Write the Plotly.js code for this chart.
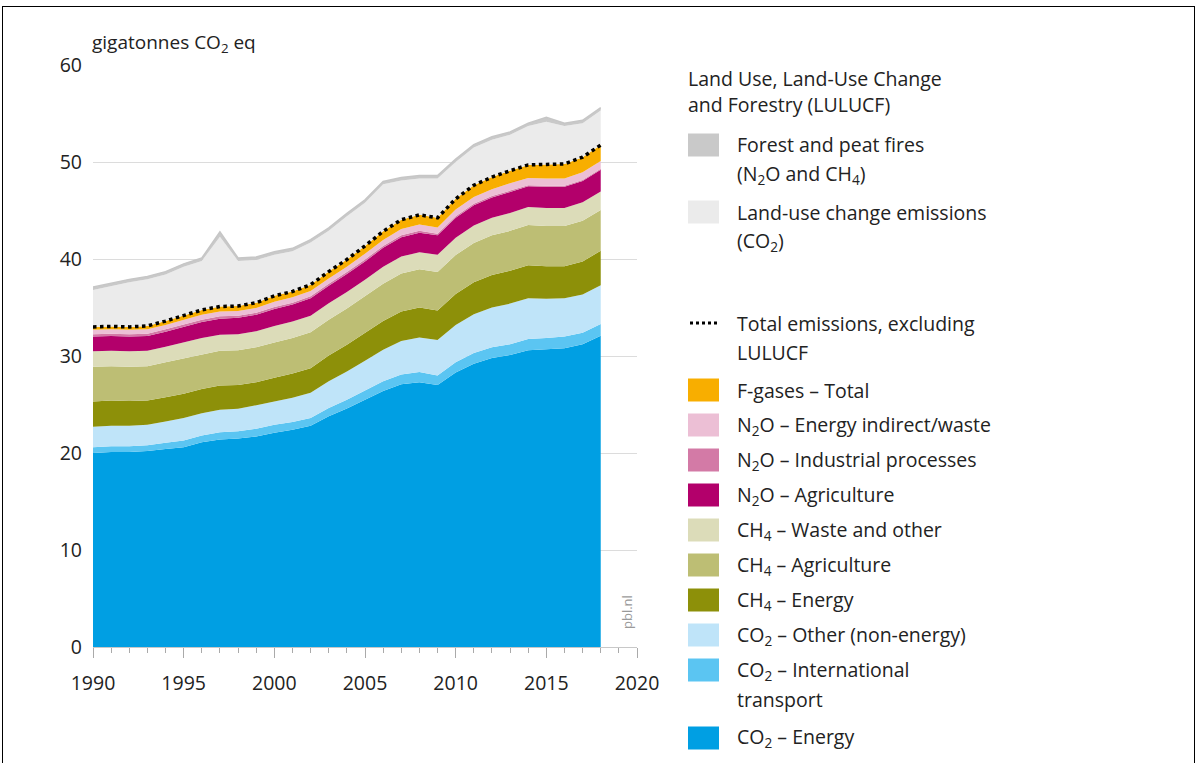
<!DOCTYPE html>
<html><head><meta charset="utf-8">
<script src="https://cdn.plot.ly/plotly-3.0.1.min.js"></script>
<style>
html,body{margin:0;padding:0;background:#fff;}
#chart{width:1198px;height:763px;position:absolute;left:0;top:0;}
#frame{position:absolute;left:2px;top:6px;width:1193px;height:800px;border:1.5px solid #000;pointer-events:none;box-sizing:border-box;}
</style></head><body>
<div id="chart"></div><div id="frame"></div>
<script>
// ---- data (gigatonnes CO2 eq) ----
const years = [1990,1991,1992,1993,1994,1995,1996,1997,1998,1999,2000,2001,2002,2003,2004,2005,2006,2007,2008,2009,2010,2011,2012,2013,2014,2015,2016,2017,2018];
const co2Energy = [20.0,20.1,20.1,20.2,20.4,20.6,21.1,21.4,21.5,21.7,22.1,22.4,22.8,23.8,24.6,25.5,26.4,27.1,27.3,27.0,28.3,29.2,29.8,30.1,30.6,30.7,30.8,31.2,32.1];
const co2Transport = [0.6,0.6,0.6,0.6,0.65,0.7,0.7,0.75,0.75,0.8,0.8,0.8,0.8,0.85,0.9,0.95,1.0,1.0,1.05,1.0,1.05,1.1,1.1,1.1,1.15,1.15,1.2,1.2,1.2];
const co2Other = [2.1,2.1,2.1,2.1,2.2,2.3,2.3,2.3,2.3,2.4,2.4,2.5,2.6,2.75,2.9,3.05,3.25,3.45,3.55,3.65,3.85,4.0,4.1,4.2,4.2,4.05,3.95,3.95,4.0];
const ch4Energy = [2.6,2.6,2.55,2.5,2.5,2.5,2.5,2.5,2.45,2.4,2.45,2.5,2.55,2.65,2.75,2.85,2.95,3.05,3.1,3.05,3.2,3.3,3.35,3.4,3.4,3.35,3.3,3.4,3.55];
const ch4Agri = [3.6,3.55,3.55,3.55,3.6,3.65,3.6,3.6,3.6,3.6,3.65,3.65,3.7,3.7,3.75,3.8,3.85,3.9,3.95,3.95,4.0,4.05,4.1,4.1,4.15,4.15,4.15,4.2,4.2];
const ch4Waste = [1.6,1.6,1.6,1.6,1.6,1.65,1.65,1.65,1.65,1.65,1.7,1.7,1.7,1.7,1.7,1.7,1.75,1.75,1.75,1.8,1.8,1.8,1.8,1.85,1.85,1.85,1.85,1.9,1.9];
const n2oAgri = [1.5,1.5,1.5,1.5,1.55,1.6,1.65,1.65,1.7,1.7,1.75,1.75,1.8,1.8,1.85,1.9,1.95,2.0,2.0,2.0,2.05,2.1,2.1,2.15,2.15,2.2,2.2,2.2,2.25];
const n2oIndustry = [0.25,0.25,0.25,0.25,0.25,0.25,0.25,0.25,0.2,0.2,0.2,0.2,0.2,0.2,0.2,0.2,0.2,0.2,0.2,0.15,0.15,0.15,0.15,0.15,0.1,0.1,0.1,0.1,0.1];
const n2oEnergy = [0.45,0.45,0.45,0.45,0.45,0.5,0.5,0.5,0.5,0.5,0.55,0.55,0.55,0.55,0.55,0.6,0.6,0.65,0.65,0.65,0.7,0.7,0.7,0.75,0.75,0.75,0.75,0.8,0.8];
const fGases = [0.3,0.3,0.3,0.35,0.4,0.45,0.5,0.5,0.5,0.55,0.6,0.6,0.65,0.7,0.75,0.8,0.9,0.95,1.0,1.0,1.1,1.2,1.25,1.3,1.35,1.45,1.5,1.55,1.65];
const landUseChange = [3.8,4.15,4.6,4.8,4.8,5.0,5.05,7.2,4.65,4.4,4.25,4.15,4.35,4.2,4.45,4.45,4.85,4.05,3.75,4.05,3.8,3.9,3.85,3.7,4.0,4.4,3.9,3.5,3.55];
const fires = [0.3,0.3,0.3,0.3,0.3,0.3,0.3,0.5,0.3,0.3,0.3,0.3,0.3,0.3,0.3,0.3,0.3,0.3,0.3,0.3,0.3,0.3,0.3,0.3,0.3,0.45,0.3,0.3,0.3];

const xTickLabels = ['1990','1995','2000','2005','2010','2015','2020'];
const yTickLabels = ['0','10','20','30','40','50','60'];

// ---- series definitions (bottom to top) ----
const ghgSeries = [
  {name:'CO<sub>2</sub> – Energy', y:co2Energy, color:'#009fe3'},
  {name:'CO<sub>2</sub> – International|transport', y:co2Transport, color:'#5bc5f2'},
  {name:'CO<sub>2</sub> – Other (non-energy)', y:co2Other, color:'#bfe4f9'},
  {name:'CH<sub>4</sub> – Energy', y:ch4Energy, color:'#8d9009'},
  {name:'CH<sub>4</sub> – Agriculture', y:ch4Agri, color:'#bdbe74'},
  {name:'CH<sub>4</sub> – Waste and other', y:ch4Waste, color:'#dcdcb9'},
  {name:'N<sub>2</sub>O – Agriculture', y:n2oAgri, color:'#b3006b'},
  {name:'N<sub>2</sub>O – Industrial processes', y:n2oIndustry, color:'#d37aa6'},
  {name:'N<sub>2</sub>O – Energy indirect/waste', y:n2oEnergy, color:'#ecbfd5'},
  {name:'F-gases – Total', y:fGases, color:'#f8ae00'}
];
const luSeries = [
  {name:'Land-use change emissions|(CO<sub>2</sub>)', y:landUseChange, color:'#ebebeb'},
  {name:'Forest and peat fires|(N<sub>2</sub>O and CH<sub>4</sub>)', y:fires, color:'#c9c9c9'}
];

const traces = [];
ghgSeries.concat(luSeries).forEach(s => {
  traces.push({x:years, y:s.y, type:'scatter', mode:'lines', stackgroup:'one',
    line:{width:0, color:s.color}, fillcolor:s.color, hoverinfo:'skip', name:s.name});
});
traces[traces.length-1].line = {width:1.5, color:'#c6c6c6'};

const totalExcl = years.map((_, i) => ghgSeries.reduce((a, s) => a + s.y[i], 0));
traces.push({x:years, y:totalExcl, type:'scatter', mode:'lines',
  line:{color:'#000', width:3.5, dash:'dot'}, hoverinfo:'skip', name:'Total'});

// ---- layout helpers (pixel -> paper) ----
const L = 93, R = 637, T = 65, B = 647;
const px = v => (v - L) / (R - L);
const py = v => (B - v) / (B - T);
const FONT = 'Open Sans, sans-serif';

const annotations = [];
const shapes = [];
const txt = (text, x, y, opts={}) => annotations.push(Object.assign({
  text, x:px(x), y:py(y), xref:'paper', yref:'paper', xanchor:'left', yanchor:'middle',
  showarrow:false, font:{size:19.5, color:'#222', family:FONT}}, opts));

txt('gigatonnes CO<sub>2</sub> eq', 90, 43, {font:{size:19, color:'#222', family:FONT}});
txt('pbl.nl', 627, 612, {textangle:-90, xanchor:'center', font:{size:13, color:'#999', family:FONT}});

txt('Land Use, Land-Use Change', 686, 78);
txt('and Forestry (LULUCF)', 686, 104);

const swatch = (color, yc) => shapes.push({type:'rect', xref:'paper', yref:'paper',
  x0:px(688), x1:px(719), y0:py(yc-11.5), y1:py(yc+11.5), fillcolor:color, line:{width:0}});

const legendRows = [
  {s:luSeries[1], y:145},
  {s:luSeries[0], y:212},
  {total:true, name:'Total emissions, excluding|LULUCF', y:323},
  {s:ghgSeries[9], y:390},
  {s:ghgSeries[8], y:425},
  {s:ghgSeries[7], y:460},
  {s:ghgSeries[6], y:495},
  {s:ghgSeries[5], y:530},
  {s:ghgSeries[4], y:565},
  {s:ghgSeries[3], y:600},
  {s:ghgSeries[2], y:635},
  {s:ghgSeries[1], y:670},
  {s:ghgSeries[0], y:738}
];
legendRows.forEach(r => {
  const name = r.total ? r.name : r.s.name;
  if (r.total) {
    shapes.push({type:'line', xref:'paper', yref:'paper', x0:px(690), x1:px(719), y0:py(r.y), y1:py(r.y),
      line:{color:'#000', width:3, dash:'dot'}});
  } else {
    swatch(r.s.color, r.y);
  }
  name.split('|').forEach((line, k) => txt(line, 735, r.y + k*29));
});

const layout = {
  width:1198, height:763,
  margin:{l:L, r:1198-R, t:T, b:763-B, pad:0},
  paper_bgcolor:'rgba(0,0,0,0)', plot_bgcolor:'rgba(0,0,0,0)',
  showlegend:false,
  font:{family:FONT, size:19.5, color:'#222'},
  xaxis:{range:[1990,2020], tickmode:'array', tickvals:xTickLabels.map(Number), ticktext:xTickLabels,
    ticks:'outside', ticklen:10, tickcolor:'#aaa', tickwidth:1,
    minor:{dtick:1, tick0:1990, ticks:'outside', ticklen:5, tickcolor:'#aaa', showgrid:false},
    showgrid:false, zeroline:false, showline:true, linecolor:'#c8c8c8', linewidth:1,
    ticklabelstandoff:9, fixedrange:true},
  yaxis:{range:[0,60], tickmode:'array', tickvals:yTickLabels.map(Number), ticktext:yTickLabels,
    showgrid:true, gridcolor:'#dcdcdc', gridwidth:1, zeroline:false, showline:false, ticks:'',
    ticklabelstandoff:10, fixedrange:true},
  annotations, shapes
};

Plotly.newPlot('chart', traces, layout, {displayModeBar:false, staticPlot:true});
</script></body></html>
